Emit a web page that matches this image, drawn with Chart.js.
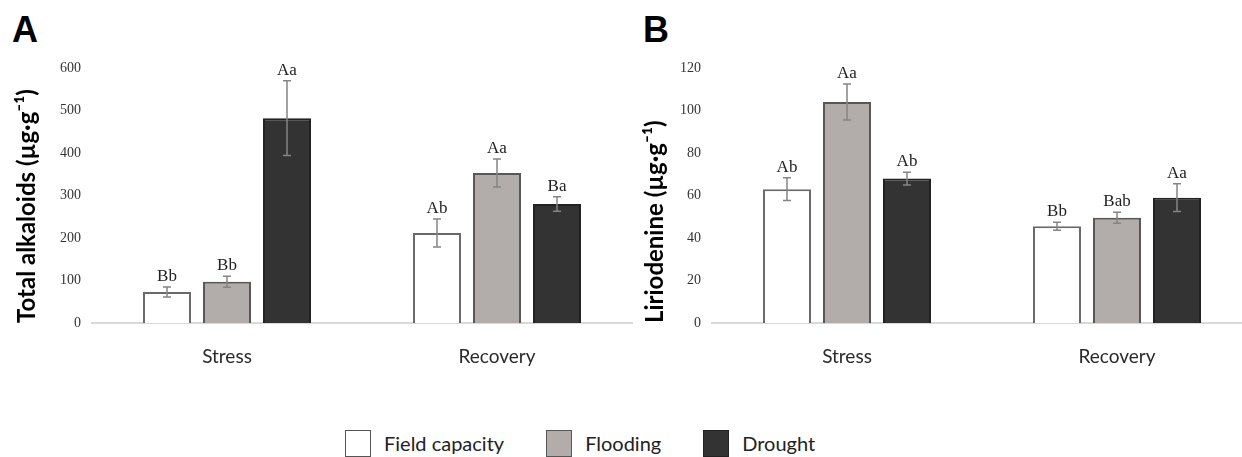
<!DOCTYPE html>
<html>
<head>
<meta charset="utf-8">
<script src="https://cdn.jsdelivr.net/npm/chart.js@4"></script>
<style>
  html, body { margin: 0; padding: 0; background: #fff; }
  body { width: 1242px; height: 457px; overflow: hidden; position: relative; }
  .panel { position: absolute; top: 0; }
  .tag { position: absolute; font: bold 36px "Liberation Sans", Arial, sans-serif; line-height: 1; color: #000; }
  #legend { position: absolute; left: 345px; top: 430px; display: flex; align-items: flex-start;
            font: 20px "Lato", "Open Sans", sans-serif; color: #222; }
  .item { display: flex; align-items: flex-start; margin-right: 42px; }
  .box { width: 26px; height: 27px; border: 1px solid #333; box-sizing: border-box; margin-right: 13px; }
  .item span { line-height: 1; margin-top: 3px; }
</style>
</head>
<body>
<div class="tag" style="left:12px; top:12px;">A</div>
<div class="tag" style="left:643px; top:12px;">B</div>
<div class="panel" style="left:0px;"><canvas id="chartA" width="640" height="400"></canvas></div>
<div class="panel" style="left:620px;"><canvas id="chartB" width="640" height="400"></canvas></div>
<div id="legend"></div>

<script>
// Sampling periods and treatments
const groups = ['Stress', 'Recovery'];
const treatments = ['Field capacity', 'Flooding', 'Drought'];

// Total alkaloids (µg·g⁻¹): means, standard errors, significance letters
const alkFieldCapacity = [73, 212];
const alkFlooding = [97, 353];
const alkDrought = [482, 280];
const alkFieldCapacityErr = [12, 33];
const alkFloodingErr = [13, 33];
const alkDroughtErr = [88, 17];
const alkFieldCapacityLetters = ['Bb', 'Ab'];
const alkFloodingLetters = ['Bb', 'Aa'];
const alkDroughtLetters = ['Aa', 'Ba'];
const alkTicks = [0, 100, 200, 300, 400, 500, 600];

// Liriodenine (µg·g⁻¹): means, standard errors, significance letters
const lirFieldCapacity = [63, 45.5];
const lirFlooding = [104, 49.5];
const lirDrought = [68, 59];
const lirFieldCapacityErr = [5.3, 1.9];
const lirFloodingErr = [8.5, 2.6];
const lirDroughtErr = [3, 6.5];
const lirFieldCapacityLetters = ['Ab', 'Bb'];
const lirFloodingLetters = ['Aa', 'Bab'];
const lirDroughtLetters = ['Ab', 'Aa'];
const lirTicks = [0, 20, 40, 60, 80, 100, 120];

// Bar styling per treatment
const fills = ['#ffffff', '#b2acaa', '#333333'];
const borders = ['#6a6a6a', '#575757', '#222222'];

// Error bars plus letter annotations above each bar
const errorBarPlugin = {
  id: 'errorBars',
  afterDatasetsDraw(chart) {
    const ctx = chart.ctx;
    const y = chart.scales.y;
    chart.data.datasets.forEach((ds, i) => {
      const meta = chart.getDatasetMeta(i);
      meta.data.forEach((bar, j) => {
        const v = ds.data[j], e = ds.errors[j];
        const top = y.getPixelForValue(v + e);
        const bot = y.getPixelForValue(v - e);
        ctx.save();
        ctx.strokeStyle = '#858585';
        ctx.lineWidth = 1.5;
        ctx.beginPath();
        ctx.moveTo(bar.x, top); ctx.lineTo(bar.x, bot);
        ctx.moveTo(bar.x - 4, top); ctx.lineTo(bar.x + 4, top);
        ctx.moveTo(bar.x - 4, bot); ctx.lineTo(bar.x + 4, bot);
        ctx.stroke();
        ctx.fillStyle = '#222';
        ctx.font = '17px "Liberation Serif", "Times New Roman", serif';
        ctx.textAlign = 'center';
        ctx.textBaseline = 'bottom';
        ctx.fillText(ds.letters[j], bar.x, top - 2);
        ctx.restore();
      });
    });
  }
};

function makeChart(id, series, errs, letters, ticks, yMax, title, titlePad) {
  return new Chart(document.getElementById(id), {
    type: 'bar',
    data: {
      labels: groups,
      datasets: treatments.map((name, k) => ({
        label: name,
        data: series[k],
        errors: errs[k],
        letters: letters[k],
        backgroundColor: fills[k],
        borderColor: borders[k],
        borderWidth: 2,
        categoryPercentage: 0.6667,
        barPercentage: 0.8
      }))
    },
    options: {
      responsive: false,
      animation: false,
      devicePixelRatio: 1,
      layout: { padding: { top: 68, right: 8, left: 0, bottom: 0 } },
      plugins: { legend: { display: false }, tooltip: { enabled: false } },
      scales: {
        x: {
          grid: { display: false, drawTicks: false },
          border: { display: true, color: '#d9d9d9', width: 2 },
          ticks: { color: '#2a2a2a', padding: 22, font: { family: 'Lato, "Open Sans", sans-serif', size: 19 } },
          afterFit(s) { s.height = 77; }
        },
        y: {
          min: 0,
          max: yMax,
          grid: { display: false, drawTicks: false },
          border: { display: false },
          afterBuildTicks(s) { s.ticks = ticks.map(v => ({ value: v })); },
          ticks: { color: '#333', padding: 11, font: { family: '"Liberation Serif", "Times New Roman", serif', size: 14 } },
          title: {
            display: true,
            text: title,
            align: 'start',
            color: '#000',
            padding: { top: titlePad, bottom: 0 },
            font: { family: 'Lato, "Open Sans", sans-serif', size: 24, weight: 'bold' }
          },
          afterFit(s) { s.width = 92; }
        }
      }
    },
    plugins: [errorBarPlugin]
  });
}

makeChart('chartA',
  [alkFieldCapacity, alkFlooding, alkDrought],
  [alkFieldCapacityErr, alkFloodingErr, alkDroughtErr],
  [alkFieldCapacityLetters, alkFloodingLetters, alkDroughtLetters],
  alkTicks, 600, 'Total alkaloids (µg·g⁻¹)', 13);

makeChart('chartB',
  [lirFieldCapacity, lirFlooding, lirDrought],
  [lirFieldCapacityErr, lirFloodingErr, lirDroughtErr],
  [lirFieldCapacityLetters, lirFloodingLetters, lirDroughtLetters],
  lirTicks, 120, 'Liriodenine (µg·g⁻¹)', 21);

// Shared legend built from the treatment list
const legend = document.getElementById('legend');
treatments.forEach((name, k) => {
  const item = document.createElement('div');
  item.className = 'item';
  const box = document.createElement('div');
  box.className = 'box';
  box.style.background = fills[k];
  box.style.borderColor = k === 0 ? '#555' : borders[k];
  const label = document.createElement('span');
  label.textContent = name;
  item.appendChild(box);
  item.appendChild(label);
  legend.appendChild(item);
});
</script>
</body>
</html>
